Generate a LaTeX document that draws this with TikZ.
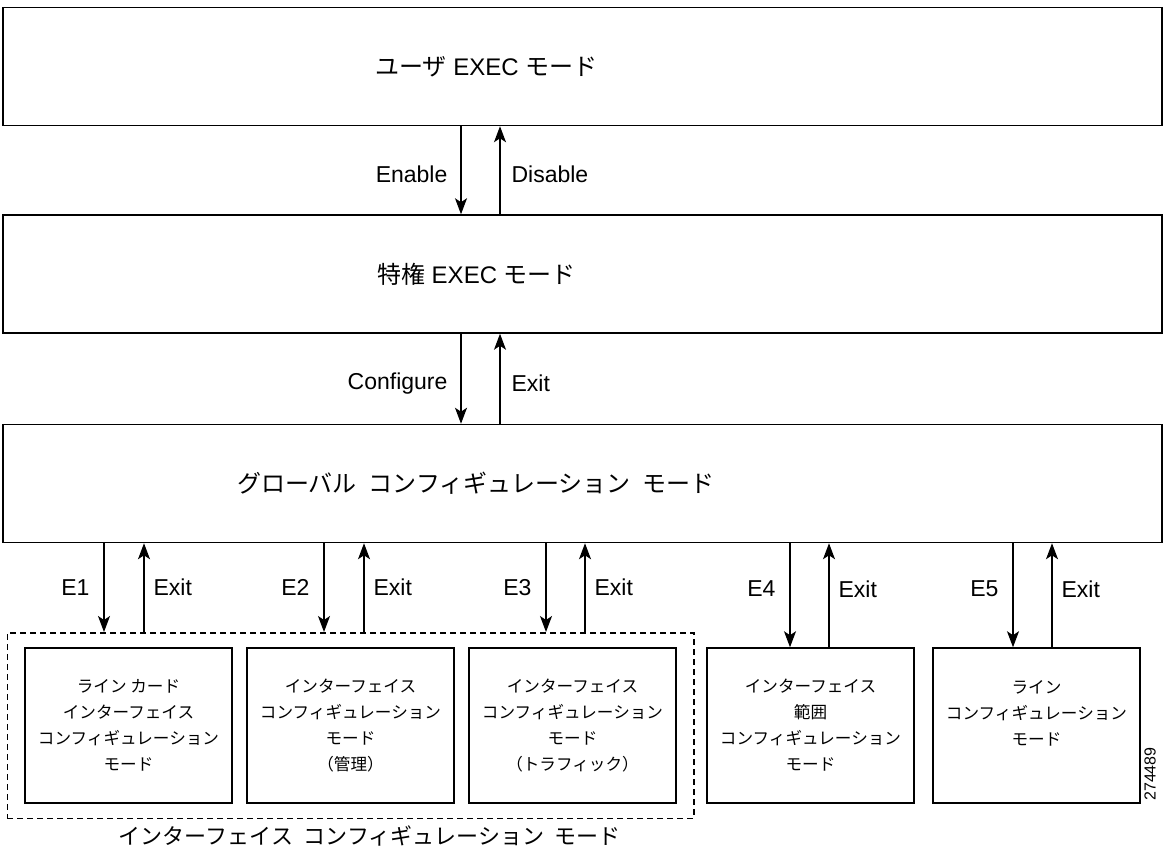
\documentclass[tikz,border=0pt]{standalone}
\usepackage{fontspec}
\setmainfont{Liberation Sans}
\newfontfamily\jp{Noto Sans CJK JP}
\usetikzlibrary{positioning,arrows.meta,fit}
\tikzset{
x=0.5pt,
y=-0.5pt,
>={Stealth[length=8pt,width=6pt,inset=2pt]},
node distance=6.75pt,
modebox/.style={draw, line width=0.75pt, minimum width=579.5pt, minimum height=59pt, inner sep=0pt},
modetext/.style={anchor=west, font=\fontsize{12}{14}\selectfont},
cardbox/.style={draw, line width=0.75pt, minimum width=103.5pt, minimum height=77.5pt, inner sep=0pt, align=center, font=\jp\fontsize{8.3}{13}\selectfont},
ifgroup/.style={draw, line width=0.75pt, dash pattern=on 3pt off 2pt, inner xsep=8.5pt, inner ysep=7.25pt},
lbl/.style={font=\fontsize{11.5}{14}\selectfont, inner xsep=0pt},
go/.style={->, line width=0.6pt},
}
\newcommand{\jsp}{\hspace{.5em}}

\begin{document}
\begin{tikzpicture}
        \useasboundingbox (0,0) rectangle (1168,850);
        \node[modebox] (user) at (582.5,66.5) {};
        \node[modebox,below=44pt of user] (priv) {};
        \node[modebox,below=45pt of priv] (glob) {};
        \node[modetext] (usert) at (user.west -| 368,0) {{\jp ユーザ} EXEC {\jp モード}};
        \node[modetext] (privt) at (priv.west -| 370,0) {{\jp 特権} EXEC {\jp モード}};
        \node[modetext,font=\jp\fontsize{12}{14}\selectfont] (globt) at (glob.west -| 230,0) {グローバル\jsp コンフィギュレーション\jsp モード};

        \node[cardbox] (c1) at (128.5,725.5) {ライン カード\\インターフェイス\\コンフィギュレーション\\モード};
        \node[cardbox,right=of c1] (c2) {インターフェイス\\コンフィギュレーション\\モード\\（管理）};
        \node[cardbox,right=of c2] (c3) {インターフェイス\\コンフィギュレーション\\モード\\（トラフィック）};
        \node[cardbox,right=14.75pt of c3] (c4) {インターフェイス\\範囲\\コンフィギュレーション\\モード};
        \node[cardbox,right=8.75pt of c4] (c5) {ライン\\コンフィギュレーション\\モード\\\mbox{}};
        \node[ifgroup,fit=(c1)(c3)] (iface) {};
        \node[font=\jp\fontsize{11}{13}\selectfont,anchor=north] (ifacet) at (iface.south -| 370,0) {インターフェイス\jsp コンフィギュレーション\jsp モード};
        \node[rotate=90,font=\fontsize{8}{9}\selectfont] (fignum) at (1150,774) {274489};

        \draw[go] (user.south -| 461,0) -- node[lbl,left=6.5pt,pos=.55]{Enable} (priv.north -| 461,0);
        \draw[go] (priv.north -| 500,0) -- node[lbl,right=5.5pt,pos=.45]{Disable} (user.south -| 500,0);
        \draw[go] (priv.south -| 461,0) -- node[lbl,left=6.5pt,pos=.55]{Configure} (glob.north -| 461,0);
        \draw[go] (glob.north -| 500,0) -- node[lbl,right=5.5pt,pos=.45]{Exit} (priv.south -| 500,0);

        \draw[go] (glob.south -| 104,0) -- node[lbl,left=7pt]{E1} (iface.north -| 104,0);
        \draw[go] (iface.north -| 144,0) -- node[lbl,right=4.5pt]{Exit} (glob.south -| 144,0);
        \draw[go] (glob.south -| 324,0) -- node[lbl,left=7pt]{E2} (iface.north -| 324,0);
        \draw[go] (iface.north -| 364,0) -- node[lbl,right=4.5pt]{Exit} (glob.south -| 364,0);
        \draw[go] (glob.south -| 546,0) -- node[lbl,left=7pt]{E3} (iface.north -| 546,0);
        \draw[go] (iface.north -| 585,0) -- node[lbl,right=4.5pt]{Exit} (glob.south -| 585,0);
        \draw[go] (glob.south -| 790,0) -- node[lbl,left=7pt,pos=.44]{E4} (c4.north -| 790,0);
        \draw[go] (c4.north -| 829,0) -- node[lbl,right=4.5pt,pos=.56]{Exit} (glob.south -| 829,0);
        \draw[go] (glob.south -| 1013,0) -- node[lbl,left=7pt,pos=.44]{E5} (c5.north -| 1013,0);
        \draw[go] (c5.north -| 1052,0) -- node[lbl,right=4.5pt,pos=.56]{Exit} (glob.south -| 1052,0);
\end{tikzpicture}
\end{document}
